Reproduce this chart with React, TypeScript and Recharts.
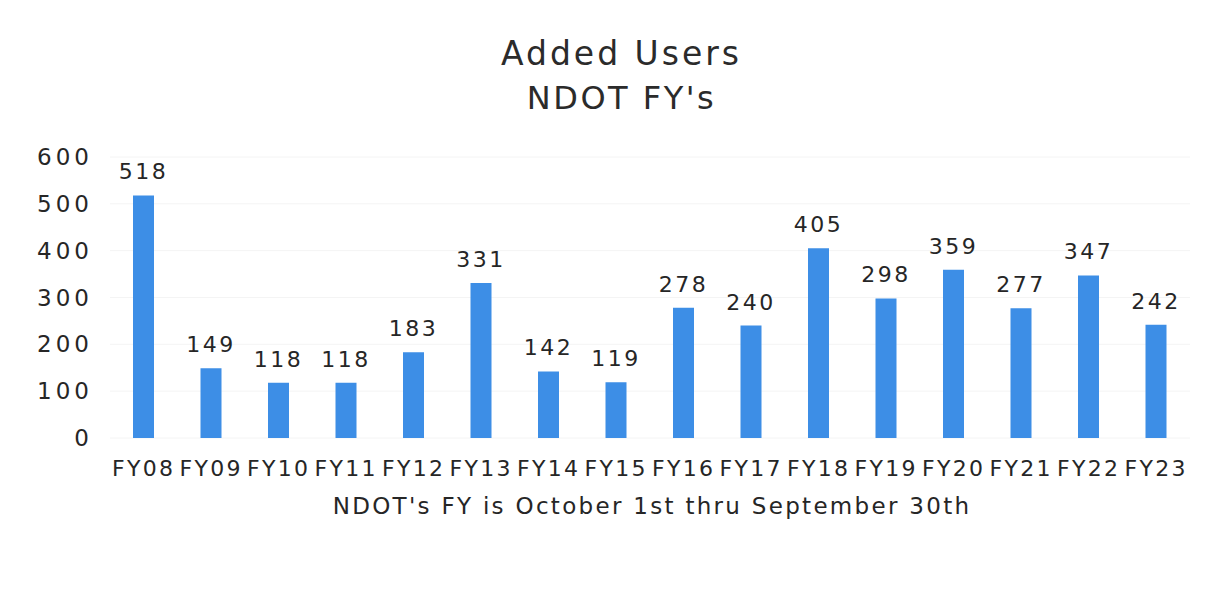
import { BarChart, Bar, XAxis, YAxis, CartesianGrid, LabelList } from 'recharts'

const years = ['FY08', 'FY09', 'FY10', 'FY11', 'FY12', 'FY13', 'FY14', 'FY15', 'FY16', 'FY17', 'FY18', 'FY19', 'FY20', 'FY21', 'FY22', 'FY23']
const addedUsers = [518, 149, 118, 118, 183, 331, 142, 119, 278, 240, 405, 298, 359, 277, 347, 242]
const yTicks = [0, 100, 200, 300, 400, 500, 600]

const data = years.map((fy, i) => ({ fy, users: addedUsers[i] }))

const font = '"DejaVu Sans", Verdana, sans-serif'

export default function App() {
  return (
    <div style={{ position: 'absolute', left: 0, top: 0, width: 1225, height: 592, background: '#fff', fontFamily: font }}>
      <div style={{ position: 'absolute', left: 0, width: 1243, top: 31, textAlign: 'center', fontSize: 33, letterSpacing: 3, lineHeight: '45px', color: '#2b2b2b' }}>
        <div>Added Users</div>
        <div style={{ fontSize: 32, letterSpacing: 2.5 }}>NDOT FY's</div>
      </div>
      <BarChart
        width={1225}
        height={592}
        data={data}
        margin={{ top: 157, right: 35, bottom: 94, left: 30 }}
        style={{ fontFamily: font }}
      >
        <CartesianGrid vertical={false} stroke="#f4f4f4" />
        <XAxis
          dataKey="fy"
          height={60}
          axisLine={false}
          tickLine={false}
          interval={0}
          tick={{ fontSize: 22, fill: '#262626', letterSpacing: 2.3 }}
          tickMargin={16}
          label={{ value: "NDOT's FY is October 1st thru September 30th", position: 'insideBottom', offset: -16, fontSize: 23, fill: '#262626', dx: 2, letterSpacing: 2.3 }}
        />
        <YAxis
          ticks={yTicks}
          domain={[0, 600]}
          width={80}
          axisLine={false}
          tickLine={false}
          tick={{ fontSize: 23, fill: '#262626', letterSpacing: 4 }}
          tickMargin={11}
        />
        <Bar dataKey="users" fill="#3d8ee6" barSize={21} isAnimationActive={false}>
          <LabelList dataKey="users" position="top" offset={16} style={{ fontSize: 22, fill: '#262626', letterSpacing: 2.5 }} />
        </Bar>
      </BarChart>
    </div>
  )
}
